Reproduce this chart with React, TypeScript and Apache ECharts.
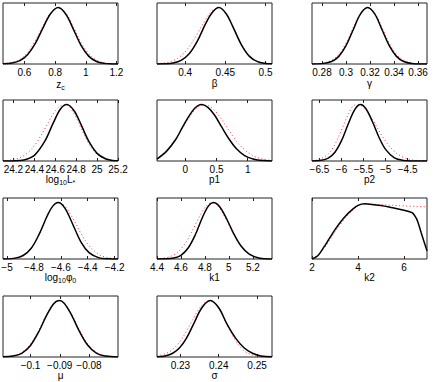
import React, { useEffect, useRef } from "react";
import * as echarts from "echarts";

// ---- data (normalised marginal densities, peak = 1) ----
const zcX = [0.46, 0.52, 0.57, 0.62, 0.67, 0.72, 0.77, 0.82, 0.87, 0.92, 0.97, 1.02, 1.07, 1.12, 1.17, 1.21];
const zcBlack = [0.003, 0.017, 0.059, 0.164, 0.36, 0.635, 0.89, 1, 0.88, 0.61, 0.325, 0.135, 0.044, 0.011, 0.002, 0];
const zcRed = [0.006, 0.028, 0.083, 0.2, 0.41, 0.67, 0.9, 1, 0.9, 0.65, 0.38, 0.18, 0.069, 0.021, 0.005, 0.001];
const zcTicks = [0.6, 0.8, 1, 1.2];

const betaX = [0.365, 0.375, 0.385, 0.395, 0.405, 0.415, 0.425, 0.433, 0.442, 0.451, 0.46, 0.47, 0.48, 0.49, 0.5, 0.508];
const betaBlack = [0.0006, 0.0037, 0.017, 0.063, 0.18, 0.4, 0.7, 0.9, 1, 0.89, 0.64, 0.34, 0.135, 0.041, 0.0095, 0.0024];
const betaRed = [0.006, 0.02, 0.06, 0.146, 0.305, 0.53, 0.78, 0.93, 1, 0.89, 0.65, 0.35, 0.14, 0.043, 0.01, 0.003];
const betaTicks = [0.4, 0.45, 0.5];

const gammaX = [0.2717, 0.28, 0.288, 0.294, 0.3, 0.306, 0.312, 0.318, 0.324, 0.33, 0.336, 0.342, 0.348, 0.356, 0.3674];
const gammaBlack = [0.0006, 0.0066, 0.044, 0.135, 0.325, 0.607, 0.883, 1, 0.883, 0.607, 0.325, 0.135, 0.044, 0.0066, 0.0002];
const gammaRed = [0.0014, 0.012, 0.065, 0.172, 0.37, 0.645, 0.895, 1, 0.895, 0.645, 0.37, 0.172, 0.065, 0.012, 0.0005];
const gammaTicks = [0.28, 0.3, 0.32, 0.34, 0.36];

const lumX = [24.1, 24.2, 24.3, 24.4, 24.5, 24.58, 24.65, 24.71, 24.78, 24.85, 24.92, 25.0, 25.08, 25.15, 25.2];
const lumBlack = [0.0001, 0.002, 0.018, 0.1, 0.35, 0.67, 0.92, 1, 0.89, 0.63, 0.35, 0.135, 0.039, 0.01, 0.003];
const lumRed = [0.0046, 0.025, 0.095, 0.27, 0.57, 0.83, 0.975, 0.99, 0.835, 0.565, 0.31, 0.118, 0.034, 0.009, 0.003];
const lumTicks = [24.2, 24.4, 24.6, 24.8, 25, 25.2];

const p1X = [-0.455, -0.3, -0.15, -0.05, 0.05, 0.15, 0.26, 0.37, 0.47, 0.58, 0.7, 0.82, 0.95, 1.1, 1.25, 1.39];
const p1Black = [0.035, 0.175, 0.39, 0.59, 0.78, 0.935, 1, 0.94, 0.81, 0.607, 0.39, 0.216, 0.097, 0.032, 0.0083, 0.002];
const p1Red = [0.045, 0.19, 0.4, 0.57, 0.75, 0.9, 0.99, 0.98, 0.895, 0.74, 0.54, 0.35, 0.2, 0.085, 0.031, 0.01];
const p1Ticks = [0, 0.5, 1];

const p2X = [-6.67, -6.5, -6.3, -6.15, -6.0, -5.85, -5.7, -5.57, -5.45, -5.3, -5.15, -5.0, -4.8, -4.6, -4.4, -4.2, -4.06];
const p2Black = [0.0012, 0.008, 0.052, 0.155, 0.36, 0.65, 0.91, 1, 0.93, 0.7, 0.42, 0.205, 0.056, 0.01, 0.0012, 0, 0];
const p2Red = [0.006, 0.029, 0.127, 0.295, 0.55, 0.82, 0.988, 0.984, 0.907, 0.74, 0.54, 0.35, 0.168, 0.066, 0.021, 0.0056, 0.002];
const p2Ticks = [-6.5, -6, -5.5, -5, -4.5];

const phiX = [-5.03, -4.95, -4.88, -4.82, -4.76, -4.7, -4.66, -4.62, -4.57, -4.51, -4.45, -4.39, -4.32, -4.25, -4.175];
const phiBlack = [0.001, 0.011, 0.062, 0.19, 0.445, 0.77, 0.936, 1, 0.9, 0.607, 0.3, 0.112, 0.024, 0.0035, 0];
const phiRed = [0.002, 0.013, 0.065, 0.19, 0.44, 0.77, 0.936, 1, 0.934, 0.717, 0.45, 0.235, 0.085, 0.023, 0.0043];
const phiTicks = [-5, -4.8, -4.6, -4.4, -4.2];

const k1X = [4.4, 4.47, 4.54, 4.6, 4.66, 4.72, 4.78, 4.83, 4.87, 4.92, 4.98, 5.04, 5.1, 5.17, 5.25, 5.36];
const k1Black = [0.0003, 0.0026, 0.018, 0.066, 0.194, 0.43, 0.74, 0.94, 1, 0.934, 0.717, 0.45, 0.235, 0.085, 0.019, 0.0014];
const k1Red = [0.0045, 0.02, 0.073, 0.178, 0.36, 0.607, 0.85, 0.977, 0.997, 0.912, 0.69, 0.435, 0.23, 0.087, 0.02, 0.0017];
const k1Ticks = [4.4, 4.6, 4.8, 5, 5.2];

const k2X = [2, 2.25, 2.5, 2.75, 3, 3.25, 3.5, 3.75, 4, 4.3, 4.6, 5, 5.5, 6, 6.35, 6.5, 6.6, 6.75, 7];
const k2Black = [0, 0.057, 0.2, 0.36, 0.52, 0.66, 0.78, 0.875, 0.95, 0.976, 0.966, 0.948, 0.907, 0.864, 0.82, 0.745, 0.66, 0.46, 0.144];
const k2Red = [0.01, 0.07, 0.18, 0.32, 0.48, 0.62, 0.75, 0.86, 0.94, 0.97, 0.97, 0.96, 0.95, 0.94, 0.935, 0.93, 0.928, 0.927, 0.925];
const k2Ticks = [2, 4, 6];

const muX = [-0.1094, -0.106, -0.103, -0.1, -0.097, -0.0945, -0.092, -0.0902, -0.0885, -0.086, -0.0835, -0.0805, -0.0775, -0.0745, -0.0701];
const muBlack = [0.0023, 0.016, 0.066, 0.205, 0.465, 0.737, 0.948, 1, 0.953, 0.747, 0.475, 0.212, 0.069, 0.017, 0.0013];
const muRed = [0.0034, 0.021, 0.08, 0.228, 0.49, 0.753, 0.951, 1, 0.956, 0.76, 0.5, 0.235, 0.083, 0.022, 0.002];
const muTicks = [-0.1, -0.09, -0.08];

const sigX = [0.2239, 0.226, 0.228, 0.2298, 0.2316, 0.2334, 0.2356, 0.2378, 0.24, 0.2422, 0.2444, 0.2466, 0.2488, 0.251, 0.2539];
const sigBlack = [0.0042, 0.019, 0.066, 0.164, 0.335, 0.577, 0.872, 1, 0.872, 0.577, 0.335, 0.164, 0.066, 0.019, 0.0036];
const sigRed = [0.017, 0.054, 0.135, 0.267, 0.458, 0.682, 0.916, 0.999, 0.855, 0.564, 0.287, 0.112, 0.034, 0.0077, 0.0008];
const sigTicks = [0.23, 0.24, 0.25];

const PANELS = [
  { name: "{t|z}{s|c}", x: zcX, black: zcBlack, red: zcRed, ticks: zcTicks, min: 0.46, max: 1.21 },
  { name: "{t|β}", x: betaX, black: betaBlack, red: betaRed, ticks: betaTicks, min: 0.365, max: 0.508 },
  { name: "{t|γ}", x: gammaX, black: gammaBlack, red: gammaRed, ticks: gammaTicks, min: 0.2717, max: 0.3674 },
  { name: "{t|log}{s|10}{t|L}{s|*}", x: lumX, black: lumBlack, red: lumRed, ticks: lumTicks, min: 24.1, max: 25.2 },
  { name: "{t|p1}", x: p1X, black: p1Black, red: p1Red, ticks: p1Ticks, min: -0.455, max: 1.39 },
  { name: "{t|p2}", x: p2X, black: p2Black, red: p2Red, ticks: p2Ticks, min: -6.67, max: -4.06 },
  { name: "{t|log}{s|10}{t|φ}{s|0}", x: phiX, black: phiBlack, red: phiRed, ticks: phiTicks, min: -5.03, max: -4.175 },
  { name: "{t|k1}", x: k1X, black: k1Black, red: k1Red, ticks: k1Ticks, min: 4.4, max: 5.36 },
  { name: "{t|k2}", x: k2X, black: k2Black, red: k2Red, ticks: k2Ticks, min: 2, max: 7 },
  { name: "{t|μ}", x: muX, black: muBlack, red: muRed, ticks: muTicks, min: -0.1094, max: -0.0701 },
  { name: "{t|σ}", x: sigX, black: sigBlack, red: sigRed, ticks: sigTicks, min: 0.2239, max: 0.2539 },
];

const COL_LEFT = [3, 157, 312];
const ROW_TOP = [3, 100, 198, 296];
const NAME_GAP = [14, 11, 9, 8];
const W = 115;
const H = 61;
const FONT = "'Liberation Sans', Arial, Helvetica, sans-serif";

function fmt(v: number) {
  return String(+v.toFixed(4)).replace("-", "\u2212");
}

export default function App() {
  const ref = useRef<HTMLDivElement>(null);
  useEffect(() => {
    if (!ref.current) return;
    const chart = echarts.init(ref.current, null, { renderer: "svg" });
    const grid: any[] = [];
    const xAxis: any[] = [];
    const yAxis: any[] = [];
    const series: any[] = [];
    PANELS.forEach((p, i) => {
      const r = Math.floor(i / 3);
      const c = i % 3;
      grid.push({
        left: COL_LEFT[c],
        top: ROW_TOP[r],
        width: W,
        height: H,
        show: true,
        borderColor: "#222",
        borderWidth: 1,
        backgroundColor: "#fff",
        containLabel: false,
        outerBoundsMode: "none",
      });
      xAxis.push({
        type: "value",
        gridIndex: i,
        min: p.min,
        max: p.max,
        position: "bottom",
        name: p.name,
        nameLocation: "middle",
        nameGap: NAME_GAP[r],
        nameTextStyle: {
          color: "#000",
          fontFamily: FONT,
          rich: {
            t: { fontSize: 10, fontFamily: FONT, color: "#000" },
            s: { fontSize: 7, fontFamily: FONT, color: "#000", padding: [6, 0, 0, 0] },
          },
        },
        axisLine: { show: false },
        splitLine: { show: false },
        axisTick: { show: true, inside: true, length: 3, customValues: p.ticks, lineStyle: { color: "#222" } },
        axisLabel: {
          customValues: p.ticks,
          fontSize: 10,
          fontFamily: FONT,
          color: "#000",
          margin: 3,
          formatter: (v: number) => fmt(v),
        },
      });
      xAxis.push({
        type: "value",
        gridIndex: i,
        min: p.min,
        max: p.max,
        position: "top",
        axisLine: { show: false },
        splitLine: { show: false },
        axisTick: { show: true, inside: true, length: 3, customValues: p.ticks, lineStyle: { color: "#222" } },
        axisLabel: { show: false },
      });
      yAxis.push({
        type: "value",
        gridIndex: i,
        min: 0,
        max: 1.08,
        axisLine: { show: false },
        axisTick: { show: false },
        axisLabel: { show: false },
        splitLine: { show: false },
      });
      series.push({
        type: "line",
        xAxisIndex: i * 2,
        yAxisIndex: i,
        data: p.x.map((x, j) => [x, p.red[j]]),
        showSymbol: false,
        smooth: 0.35,
        lineStyle: { color: "#ff3030", width: 1, type: [1, 2.5] },
        silent: true,
      });
      series.push({
        type: "line",
        xAxisIndex: i * 2,
        yAxisIndex: i,
        data: p.x.map((x, j) => [x, p.black[j]]),
        showSymbol: false,
        smooth: 0.35,
        lineStyle: { color: "#000", width: 1.5 },
        silent: true,
      });
    });
    chart.setOption({
      animation: false,
      backgroundColor: "#fff",
      grid,
      xAxis,
      yAxis,
      series,
    });
    return () => chart.dispose();
  }, []);
  return (
    <div
      ref={ref}
      style={{ position: "fixed", left: 0, top: 0, width: 436, height: 382, background: "#fff" }}
    />
  );
}
